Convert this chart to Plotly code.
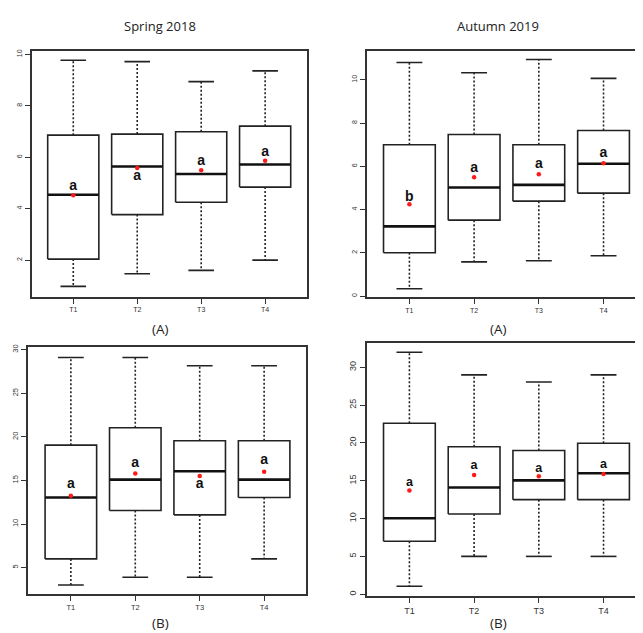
import plotly.graph_objects as go

cats = ["T1", "T2", "T3", "T4"]

# Panel 1: Spring 2018 (A)
sA_low = [0.98, 1.47, 1.60, 2.00]
sA_q1 = [2.04, 3.77, 4.25, 4.84]
sA_med = [4.54, 5.64, 5.35, 5.72]
sA_q3 = [6.86, 6.90, 6.99, 7.21]
sA_high = [9.77, 9.72, 8.94, 9.36]
sA_mean = [4.52, 5.58, 5.49, 5.86]
sA_letters = ["a", "a", "a", "a"]
sA_lbl_y = [4.88, 5.27, 5.83, 6.19]

# Panel 2: Autumn 2019 (A)
aA_low = [0.34, 1.58, 1.63, 1.86]
aA_q1 = [2.00, 3.51, 4.39, 4.76]
aA_med = [3.22, 5.02, 5.14, 6.12]
aA_q3 = [7.00, 7.47, 7.00, 7.66]
aA_high = [10.80, 10.33, 10.94, 10.07]
aA_mean = [4.25, 5.49, 5.63, 6.14]
aA_letters = ["b", "a", "a", "a"]
aA_lbl_y = [4.57, 5.88, 6.09, 6.58]

# Panel 3: Spring 2018 (B)
sB_low = [3.0, 3.9, 3.9, 6.0]
sB_q1 = [6.0, 11.55, 11.05, 13.05]
sB_med = [13.05, 15.1, 16.05, 15.1]
sB_q3 = [19.05, 21.05, 19.55, 19.55]
sB_high = [29.1, 29.1, 28.15, 28.15]
sB_mean = [13.25, 15.8, 15.5, 16.0]
sB_letters = ["a", "a", "a", "a"]
sB_lbl_y = [14.5, 16.9, 14.5, 17.25]

# Panel 4: Autumn 2019 (B)
aB_low = [1.05, 5.0, 5.0, 5.0]
aB_q1 = [7.0, 10.6, 12.5, 12.5]
aB_med = [10.05, 14.1, 15.05, 16.0]
aB_q3 = [22.6, 19.5, 19.0, 19.95]
aB_high = [32.0, 29.0, 28.05, 29.0]
aB_mean = [13.7, 15.75, 15.6, 15.9]
aB_letters = ["a", "a", "a", "a"]
aB_lbl_y = [14.7, 16.97, 16.6, 17.1]

titles = ["Spring 2018", "Autumn 2019"]
panel_tags = ["(A)", "(A)", "(B)", "(B)"]

# page body has an 8px default margin; compensate
OFF = 8
W, H = 643 - OFF, 633 - OFF
fig = go.Figure()


def px_x(v):
    return (v - OFF) / W


def px_y(v):
    return (H - (v - OFF)) / H


panels = [
    dict(low=sA_low, q1=sA_q1, med=sA_med, q3=sA_q3, high=sA_high, mean=sA_mean,
         letters=sA_letters, lbl=sA_lbl_y, dx=[31.7, 306.7], dy=[48, 295],
         xr=[0.35, 4.65], yr=[0.58, 10.14], yt=[2, 4, 6, 8, 10], fs=7, lfs=14, right=True),
    dict(low=aA_low, q1=aA_q1, med=aA_med, q3=aA_q3, high=aA_high, mean=aA_mean,
         letters=aA_letters, lbl=aA_lbl_y, dx=[366.7, 643], dy=[48.3, 295.7],
         xr=[0.34, 4.61], yr=[-0.06, 11.33], yt=[0, 2, 4, 6, 8, 10], fs=7, lfs=14, right=False),
    dict(low=sB_low, q1=sB_q1, med=sB_med, q3=sB_q3, high=sB_high, mean=sB_mean,
         letters=sB_letters, lbl=sB_lbl_y, dx=[27.7, 306], dy=[345.7, 594.3],
         xr=[0.33, 4.65], yr=[1.92, 30.3], yt=[5, 10, 15, 20, 25, 30], fs=7.5, lfs=14, right=True),
    dict(low=aB_low, q1=aB_q1, med=aB_med, q3=aB_q3, high=aB_high, mean=aB_mean,
         letters=aB_letters, lbl=aB_lbl_y, dx=[366.7, 643], dy=[341.7, 595.7],
         xr=[0.34, 4.61], yr=[-0.22, 33.2], yt=[0, 5, 10, 15, 20, 25, 30], fs=9, lfs=12.5, right=False),
]

BW = 0.4   # half box width
CW = 0.2   # half cap width
tickfont_family = "Liberation Sans, Arial, sans-serif"

for k, p in enumerate(panels):
    n = k + 1
    xa = "x" if n == 1 else f"x{n}"
    ya = "y" if n == 1 else f"y{n}"
    xs = list(range(1, len(cats) + 1))

    box_x, box_y = [], []
    med_x, med_y = [], []
    wh_x, wh_y = [], []
    cap_x, cap_y = [], []
    for i in xs:
        j = i - 1
        box_x += [i - BW, i + BW, i + BW, i - BW, i - BW, None]
        box_y += [p["q1"][j], p["q1"][j], p["q3"][j], p["q3"][j], p["q1"][j], None]
        med_x += [i - BW, i + BW, None]
        med_y += [p["med"][j], p["med"][j], None]
        wh_x += [i, i, None, i, i, None]
        wh_y += [p["q3"][j], p["high"][j], None, p["q1"][j], p["low"][j], None]
        cap_x += [i - CW, i + CW, None, i - CW, i + CW, None]
        cap_y += [p["high"][j], p["high"][j], None, p["low"][j], p["low"][j], None]

    fig.add_trace(go.Scatter(x=wh_x, y=wh_y, mode="lines", xaxis=xa, yaxis=ya,
                             line=dict(color="#222", width=1.6, dash="2px,2px"),
                             showlegend=False, hoverinfo="skip"))
    fig.add_trace(go.Scatter(x=cap_x, y=cap_y, mode="lines", xaxis=xa, yaxis=ya,
                             line=dict(color="#222", width=1.6),
                             showlegend=False, hoverinfo="skip"))
    fig.add_trace(go.Scatter(x=box_x, y=box_y, mode="lines", xaxis=xa, yaxis=ya,
                             line=dict(color="#222", width=1.6),
                             showlegend=False, hoverinfo="skip"))
    fig.add_trace(go.Scatter(x=med_x, y=med_y, mode="lines", xaxis=xa, yaxis=ya,
                             line=dict(color="#111", width=2.6),
                             showlegend=False, hoverinfo="skip"))
    fig.add_trace(go.Scatter(x=xs, y=p["mean"], mode="markers", xaxis=xa, yaxis=ya,
                             marker=dict(color="#ff1a1a", size=4.5),
                             showlegend=False, hoverinfo="skip"))
    fig.add_trace(go.Scatter(x=xs, y=p["lbl"], mode="text", text=p["letters"],
                             xaxis=xa, yaxis=ya,
                             textfont=dict(family="Liberation Sans, Arial", size=p["lfs"],
                                           color="#111", weight="bold"),
                             showlegend=False, hoverinfo="skip"))

    xdom = [max(px_x(p["dx"][0]), 0.0), min(px_x(p["dx"][1]), 1.0)]
    ydom = [px_y(p["dy"][1]), px_y(p["dy"][0])]
    xkey = "xaxis" if n == 1 else f"xaxis{n}"
    ykey = "yaxis" if n == 1 else f"yaxis{n}"
    fig.update_layout(**{
        xkey: dict(domain=xdom, range=p["xr"], anchor=ya, tickvals=xs, ticktext=cats,
                   showgrid=False, zeroline=False, showline=True, linecolor="#333",
                   linewidth=1.8, mirror=True, ticks="outside", ticklen=5,
                   tickcolor="#333", tickwidth=1,
                   tickfont=dict(family=tickfont_family, size=p["fs"], color="#333")),
        ykey: dict(domain=ydom, range=p["yr"], anchor=xa, tickvals=p["yt"],
                   showgrid=False, zeroline=False, showline=True, linecolor="#333",
                   linewidth=1.8, mirror=p["right"], ticks="outside", ticklen=5,
                   tickcolor="#333", tickwidth=1, tickangle=-90,
                   tickfont=dict(family=tickfont_family, size=p["fs"], color="#333")),
    })

annos = []
title_font = dict(family="Open Sans, DejaVu Sans, sans-serif", size=13, color="#222")
for t, xc in zip(titles, [160, 498]):
    annos.append(dict(text=t, x=px_x(xc), y=px_y(23), xref="paper", yref="paper",
                      showarrow=False, xanchor="center", yanchor="middle", font=title_font))
tag_pos = [(160, 328), (498, 328), (160, 623), (498, 623)]
for tag, (xc, yc) in zip(panel_tags, tag_pos):
    annos.append(dict(text=tag, x=px_x(xc), y=px_y(yc), xref="paper", yref="paper",
                      showarrow=False, xanchor="center", yanchor="middle",
                      font=dict(family="Open Sans, DejaVu Sans, sans-serif", size=13.5, color="#222")))

fig.update_layout(width=W, height=H, margin=dict(l=0, r=0, t=0, b=0),
                  paper_bgcolor="white", plot_bgcolor="white", annotations=annos,
                  showlegend=False)

fig.write_html("out.html")
